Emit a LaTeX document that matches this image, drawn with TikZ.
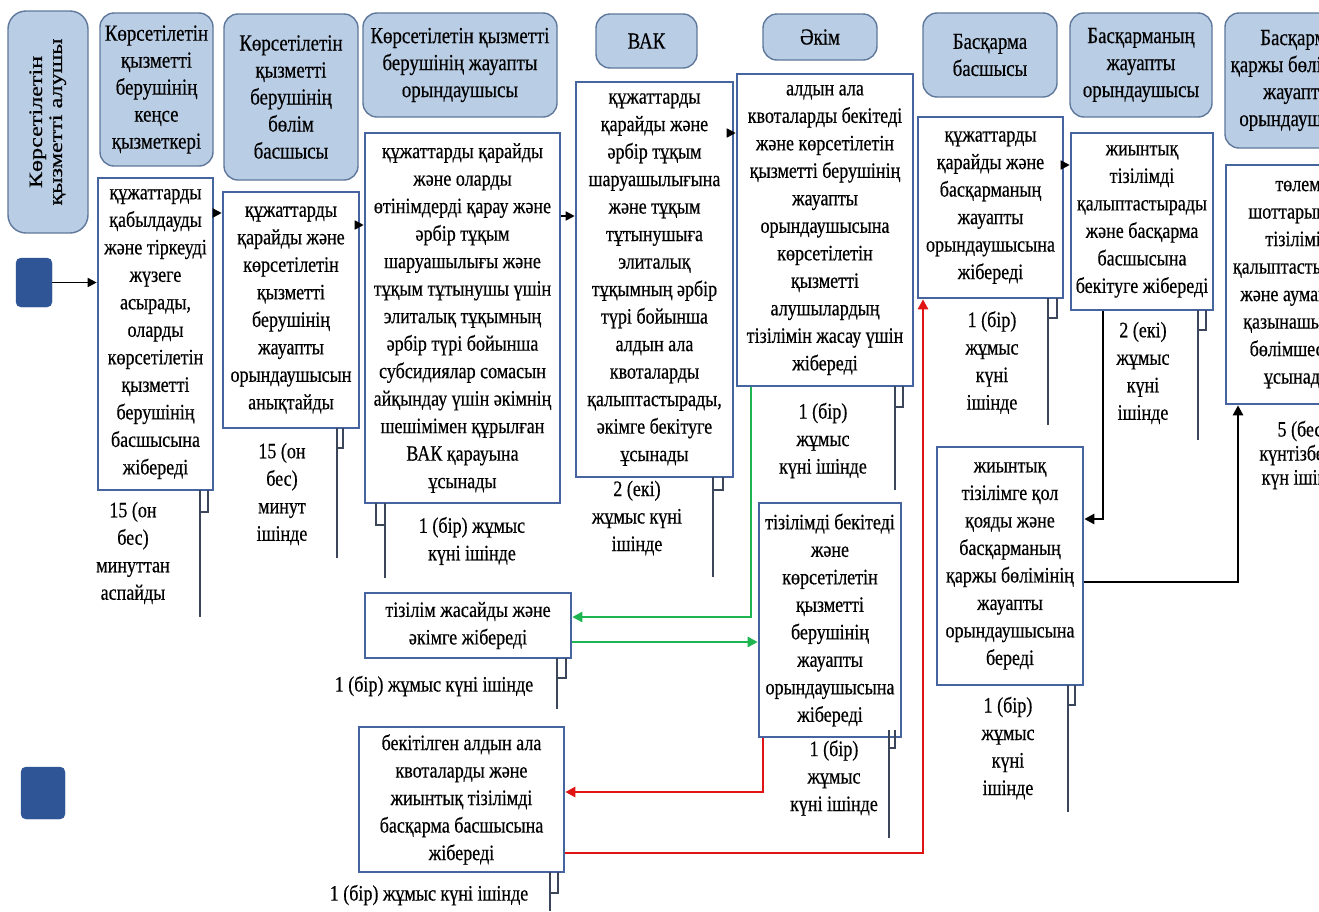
\documentclass[tikz,border=0pt]{standalone}
\usepackage{fontspec}
\setmainfont{Liberation Serif}[FakeStretch=0.82,FakeBold=0.4]
\usepackage{graphicx}
\usetikzlibrary{arrows.meta}
\definecolor{hdrfill}{RGB}{185,205,229}
\definecolor{hdrline}{RGB}{95,120,155}
\definecolor{boxline}{RGB}{70,100,160}
\definecolor{startfill}{RGB}{47,85,151}
\definecolor{grn}{RGB}{30,180,80}
\definecolor{rd}{RGB}{225,20,20}
\definecolor{brkline}{RGB}{60,70,90}
\begin{document}
\begin{tikzpicture}[x=1pt,y=-1pt,
  hdr/.style={draw=hdrline, fill=hdrfill, line width=1.4pt, rounded corners=14pt, align=center, inner sep=0pt, font=\fontsize{23}{27}\selectfont},
  pbox/.style={draw=boxline, line width=2.6pt, fill=white, align=center, inner sep=0pt, font=\fontsize{22}{27.5}\selectfont},
  lbl/.style={align=center, inner sep=0pt, font=\fontsize{22}{27.5}\selectfont},
  startsq/.style={fill=startfill, draw=startfill, rounded corners=5pt, inner sep=0pt},
  arr/.style={-{Triangle[length=9pt,width=9pt]}, line width=1.6pt, black},
  tarr/.style={-{Triangle[length=10pt,width=10pt]}, line width=2.8pt, black},
  garr/.style={-{Triangle[length=10pt,width=10pt]}, line width=2.8pt, grn},
  rarr/.style={-{Triangle[length=10pt,width=10pt]}, line width=2.8pt, rd},
  brk/.style={line width=1.3pt, brkline}]
\useasboundingbox (0,0) rectangle (1319,911);
\clip (0,0) rectangle (1319,911);
\fill[white] (0,0) rectangle (1319,911);

% headers
\node[hdr, rotate=90, minimum width=222pt, minimum height=80pt, rounded corners=18pt] (h0) at (48,122)
  {\fontsize{19}{20}\selectfont\scalebox{1.55}[1]{\begin{tabular}{@{}c@{}}Көрсетілетін\\қызметті алушы\end{tabular}}};
\node[hdr, minimum width=113pt, minimum height=153pt] (h1) at (156.5,89.5) {Көрсетілетін\\қызметті\\берушінің\\кеңсе\\қызметкері};
\node[hdr, minimum width=134pt, minimum height=166pt] (h2) at (291,97) {Көрсетілетін\\қызметті\\берушінің\\бөлім\\басшысы};
\node[hdr, minimum width=194pt, minimum height=104pt] (h3) at (460,65) {Көрсетілетін қызметті\\берушінің жауапты\\орындаушысы};
\node[hdr, minimum width=101pt, minimum height=54pt] (h4) at (646.5,41) {ВАК};
\node[hdr, minimum width=114pt, minimum height=46pt] (h5) at (820,37) {Әкім};
\node[hdr, minimum width=134pt, minimum height=84pt] (h6) at (990,55) {Басқарма\\басшысы};
\node[hdr, minimum width=142pt, minimum height=104pt] (h7) at (1141,65) {Басқарманың\\жауапты\\орындаушысы};
\node[hdr, minimum width=145pt, minimum height=135pt] (h8) at (1297.5,80.5) {Басқарма\\қаржы бөлімінің\\жауапты\\орындаушысы};

% start squares
\node[startsq, minimum width=36pt, minimum height=49pt] (s1) at (34,282.5) {};
\node[startsq, minimum width=44pt, minimum height=52pt] (s2) at (43,793) {};

% process boxes
\node[pbox, minimum width=115pt, minimum height=312pt] (b1) at (155.5,334) {құжаттарды\\қабылдауды\\және тіркеуді\\жүзеге\\асырады,\\оларды\\көрсетілетін\\қызметті\\берушінің\\басшысына\\жібереді};
\node[pbox, minimum width=136pt, minimum height=236pt] (b2) at (291,310) {құжаттарды\\қарайды және\\көрсетілетін\\қызметті\\берушінің\\жауапты\\орындаушысын\\анықтайды};
\node[pbox, minimum width=195pt, minimum height=370pt] (b3) at (462.5,318) {құжаттарды қарайды\\және оларды\\өтінімдерді қарау және\\әрбір тұқым\\шаруашылығы және\\тұқым тұтынушы үшін\\элиталық тұқымның\\әрбір түрі бойынша\\субсидиялар сомасын\\айқындау үшін әкімнің\\шешімімен құрылған\\ВАК қарауына\\ұсынады};
\node[pbox, minimum width=157pt, minimum height=395pt] (b4) at (654.5,279.5) {құжаттарды\\қарайды және\\әрбір тұқым\\шаруашылығына\\және тұқым\\тұтынушыға\\элиталық\\тұқымның әрбір\\түрі бойынша\\алдын ала\\квоталарды\\қалыптастырады,\\әкімге бекітуге\\ұсынады};
\node[pbox, minimum width=176pt, minimum height=312pt] (b5) at (825,230) {алдын ала\\квоталарды бекітеді\\және көрсетілетін\\қызметті берушінің\\жауапты\\орындаушысына\\көрсетілетін\\қызметті\\алушылардың\\тізілімін жасау үшін\\жібереді};
\node[pbox, minimum width=145pt, minimum height=181pt] (b6) at (990.5,207.5) {құжаттарды\\қарайды және\\басқарманың\\жауапты\\орындаушысына\\жібереді};
\node[pbox, minimum width=142pt, minimum height=177pt] (b7) at (1142,221.5) {жиынтық\\тізілімді\\қалыптастырады\\және басқарма\\басшысына\\бекітуге жібереді};
\node[pbox, minimum width=144pt, minimum height=239pt] (b8) at (1298,284.5) {төлем\\шоттарының\\тізілімін\\қалыптастырады\\және аумақтық\\қазынашылық\\бөлімшесіне\\ұсынады};
\node[pbox, minimum width=146pt, minimum height=238pt] (b9) at (1010,566) {жиынтық\\тізілімге қол\\қояды және\\басқарманың\\қаржы бөлімінің\\жауапты\\орындаушысына\\береді};
\node[pbox, minimum width=142pt, minimum height=234pt] (b10) at (830,620) {тізілімді бекітеді\\және\\көрсетілетін\\қызметті\\берушінің\\жауапты\\орындаушысына\\жібереді};
\node[pbox, minimum width=206pt, minimum height=65pt] (b11) at (468,625.5) {тізілім жасайды және\\әкімге жібереді};
\node[pbox, minimum width=205pt, minimum height=145pt] (b12) at (461.5,799.5) {бекітілген алдын ала\\квоталарды және\\жиынтық тізілімді\\басқарма басшысына\\жібереді};

% time labels
\node[lbl] (l1) at (133,553) {15 (он\\бес)\\минуттан\\аспайды};
\node[lbl] (l2) at (282,494) {15 (он\\бес)\\минут\\ішінде};
\node[lbl] (l3) at (472,541) {1 (бір) жұмыс\\күні ішінде};
\node[lbl] (l4) at (637,518) {2 (екі)\\жұмыс күні\\ішінде};
\node[lbl] (l5) at (823,440.5) {1 (бір)\\жұмыс\\күні ішінде};
\node[lbl] (l6) at (992,362.5) {1 (бір)\\жұмыс\\күні\\ішінде};
\node[lbl] (l7) at (1143,373) {2 (екі)\\жұмыс\\күні\\ішінде};
\node[lbl, font=\fontsize{22}{24}\selectfont] (l8) at (1303,455) {5 (бес)\\күнтізбелік\\күн ішінде};
\node[lbl] (l9) at (1008,748) {1 (бір)\\жұмыс\\күні\\ішінде};
\node[lbl] (l10) at (834,778) {1 (бір)\\жұмыс\\күні ішінде};
\node[lbl] (l11) at (434,686) {1 (бір) жұмыс күні ішінде};
\node[lbl] (l12) at (429,895) {1 (бір) жұмыс күні ішінде};

% brackets
\draw[brk] (208,490) -- (208,512) -- (200,512); \draw[brk] (200,490) -- (200,617);
\draw[brk] (343,428) -- (343,448) -- (337,448); \draw[brk] (337,428) -- (337,558);
\draw[brk] (376,503) -- (376,525) -- (385,525); \draw[brk] (385,503) -- (385,578);
\draw[brk] (723,477) -- (723,490) -- (713,490); \draw[brk] (713,477) -- (713,577);
\draw[brk] (903,386) -- (903,407) -- (895,407); \draw[brk] (895,386) -- (895,490);
\draw[brk] (1057,298) -- (1057,318) -- (1048,318); \draw[brk] (1048,298) -- (1048,425);
\draw[brk] (1206,310) -- (1206,330) -- (1198,330); \draw[brk] (1198,310) -- (1198,440);
\draw[brk] (1075,685) -- (1075,705) -- (1068,705); \draw[brk] (1068,685) -- (1068,812);
\draw[brk] (895,730) -- (895,748) -- (889,748); \draw[brk] (889,730) -- (889,838);
\draw[brk] (566,658) -- (566,678) -- (557,678); \draw[brk] (557,658) -- (557,709);
\draw[brk] (558,872) -- (558,893) -- (550,893); \draw[brk] (550,872) -- (550,911);

% helper coordinates
\coordinate (yA) at (0,213);
\coordinate (yB) at (0,225);
\coordinate (yC) at (0,216);
\coordinate (yD) at (0,133);
\coordinate (yE) at (0,165);
\coordinate (xF) at (1103,0);
\coordinate (yF) at (0,519);
\coordinate (yG) at (0,582);
\coordinate (xG) at (1238,0);
\coordinate (xH) at (751,0);
\coordinate (yH) at (0,617);
\coordinate (yI) at (0,642);
\coordinate (xJ) at (763,0);
\coordinate (yJ) at (0,792);
\coordinate (yK) at (0,853);
\coordinate (xK) at (923,0);

% connectors
\draw[arr] (s1.east) -- (b1.west |- s1.east);
\draw[arr] (b1.east |- yA) -- (b2.west |- yA);
\draw[arr] (b2.east |- yB) -- (b3.west |- yB);
\draw[arr] (b3.east |- yC) -- (b4.west |- yC);
\draw[arr] (b4.east |- yD) -- (b5.west |- yD);
\draw[arr] (b6.east |- yE) -- (b7.west |- yE);
\draw[tarr] (b7.south -| xF) -- (xF |- yF) -- (b9.east |- yF);
\draw[tarr] (b9.east |- yG) -- (xG |- yG) -- (b8.south -| xG);
\draw[garr] (b5.south -| xH) -- (xH |- yH) -- (b11.east |- yH);
\draw[garr] (b11.east |- yI) -- (b10.west |- yI);
\draw[rarr] (b10.south -| xJ) -- (xJ |- yJ) -- (b12.east |- yJ);
\draw[rarr] (b12.east |- yK) -- (xK |- yK) -- (b6.south -| xK);
\end{tikzpicture}
\end{document}
